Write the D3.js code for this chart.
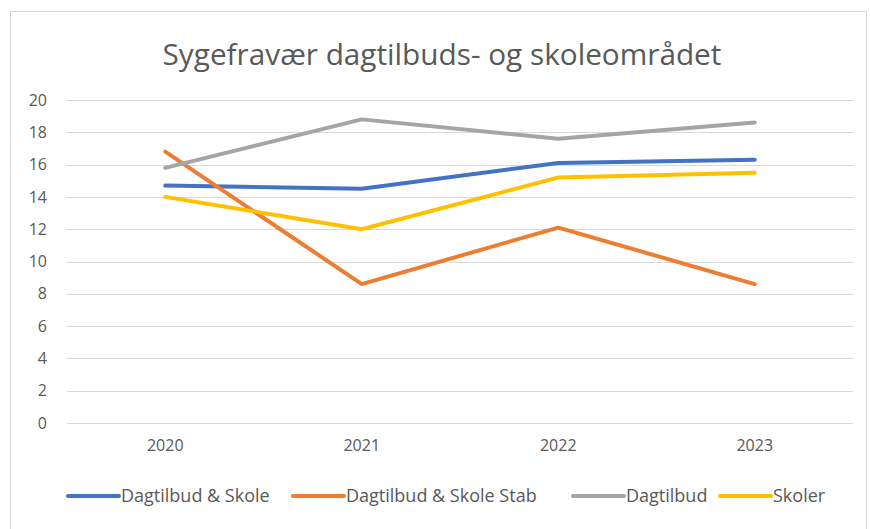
<!DOCTYPE html>
<html>
<head>
<meta charset="utf-8">
<script src="https://cdn.jsdelivr.net/npm/d3@7"></script>
<style>
  body { margin: 0; background: #fff; }
  text { font-family: "Open Sans", "Noto Sans", sans-serif; }
</style>
</head>
<body>
<svg id="chart" width="870" height="529"></svg>
<script>
// data
var years = ["2020", "2021", "2022", "2023"]
var seriesNames = ["Dagtilbud & Skole", "Dagtilbud & Skole Stab", "Dagtilbud", "Skoler"]
var dagtilbudSkole = [14.7, 14.5, 16.1, 16.3]
var dagtilbudSkoleStab = [16.8, 8.6, 12.1, 8.6]
var dagtilbud = [15.8, 18.8, 17.6, 18.6]
var skoler = [14.0, 12.0, 15.2, 15.5]
var yTicks = [0, 2, 4, 6, 8, 10, 12, 14, 16, 18, 20]
var colors = ["#4472C4", "#ED7D31", "#A5A5A5", "#FFC000"]

var allSeries = [dagtilbudSkole, dagtilbudSkoleStab, dagtilbud, skoler]

var svg = d3.select("#chart")

// chart frame
svg.append("rect")
  .attr("x", 10.5).attr("y", 11.5)
  .attr("width", 856).attr("height", 530)
  .attr("fill", "#fff").attr("stroke", "#d9d9d9")

var plotLeft = 67, plotRight = 853, plotTop = 100, plotBottom = 423

var x = d3.scaleBand().domain(years).range([plotLeft, plotRight])
var y = d3.scaleLinear().domain([0, 20]).range([plotBottom, plotTop])

// title, font size fitted to the reference width
var title = svg.append("text")
  .attr("x", 442).attr("y", 65)
  .attr("text-anchor", "middle")
  .attr("fill", "#595959")
  .style("font-size", "24px")
  .text("Sygefravær dagtilbuds- og skoleområdet")
var tw = title.node().getComputedTextLength()
title.style("font-size", (24 * 559 / tw) + "px")

// gridlines
svg.append("g")
  .selectAll("line").data(yTicks).enter().append("line")
  .attr("x1", plotLeft).attr("x2", plotRight)
  .attr("y1", function(d) { return Math.round(y(d)) + 0.5 })
  .attr("y2", function(d) { return Math.round(y(d)) + 0.5 })
  .attr("stroke", "#d9d9d9").attr("stroke-width", 1)

// y axis labels
var yAxis = svg.append("g")
  .attr("transform", "translate(" + (plotLeft - 20) + ",0)")
  .call(d3.axisLeft(y).tickValues(yTicks).tickSize(0).tickPadding(0))
yAxis.select(".domain").remove()
yAxis.selectAll("text")
  .attr("fill", "#595959")
  .style("font-size", "16px")
  .style("font-family", "'Open Sans', sans-serif")

// x axis labels
var xAxis = svg.append("g")
  .attr("transform", "translate(0," + (plotBottom + 17) + ")")
  .call(d3.axisBottom(x).tickSize(0).tickPadding(0))
xAxis.select(".domain").remove()
xAxis.selectAll("text")
  .attr("fill", "#595959")
  .style("font-size", "16px")
  .style("font-family", "'Open Sans', sans-serif")

// lines
var line = d3.line()
  .x(function(d, i) { return x(years[i]) + x.bandwidth() / 2 })
  .y(function(d) { return y(d) })

svg.append("g")
  .selectAll("path").data(allSeries).enter().append("path")
  .attr("d", function(d) { return line(d) })
  .attr("fill", "none")
  .attr("stroke", function(d, i) { return colors[i] })
  .attr("stroke-width", 4)
  .attr("stroke-linejoin", "round")
  .attr("stroke-linecap", "round")

// legend
var legendX = [67, 292, 572, 719]
var legendW = [157, 206, 85, 64]
var legend = svg.append("g")
seriesNames.forEach(function(name, i) {
  var g = legend.append("g").attr("transform", "translate(" + legendX[i] + ",496)")
  g.append("line")
    .attr("x1", 1).attr("x2", 52)
    .attr("stroke", colors[i]).attr("stroke-width", 4)
    .attr("stroke-linecap", "round")
  var t = g.append("text")
    .attr("x", 54).attr("y", 6)
    .attr("fill", "#595959")
    .style("font-size", "16px")
    .text(name)
  var w = t.node().getComputedTextLength()
  t.style("font-size", Math.min(18, 16 * legendW[i] / w) + "px")
})
</script>
</body>
</html>
